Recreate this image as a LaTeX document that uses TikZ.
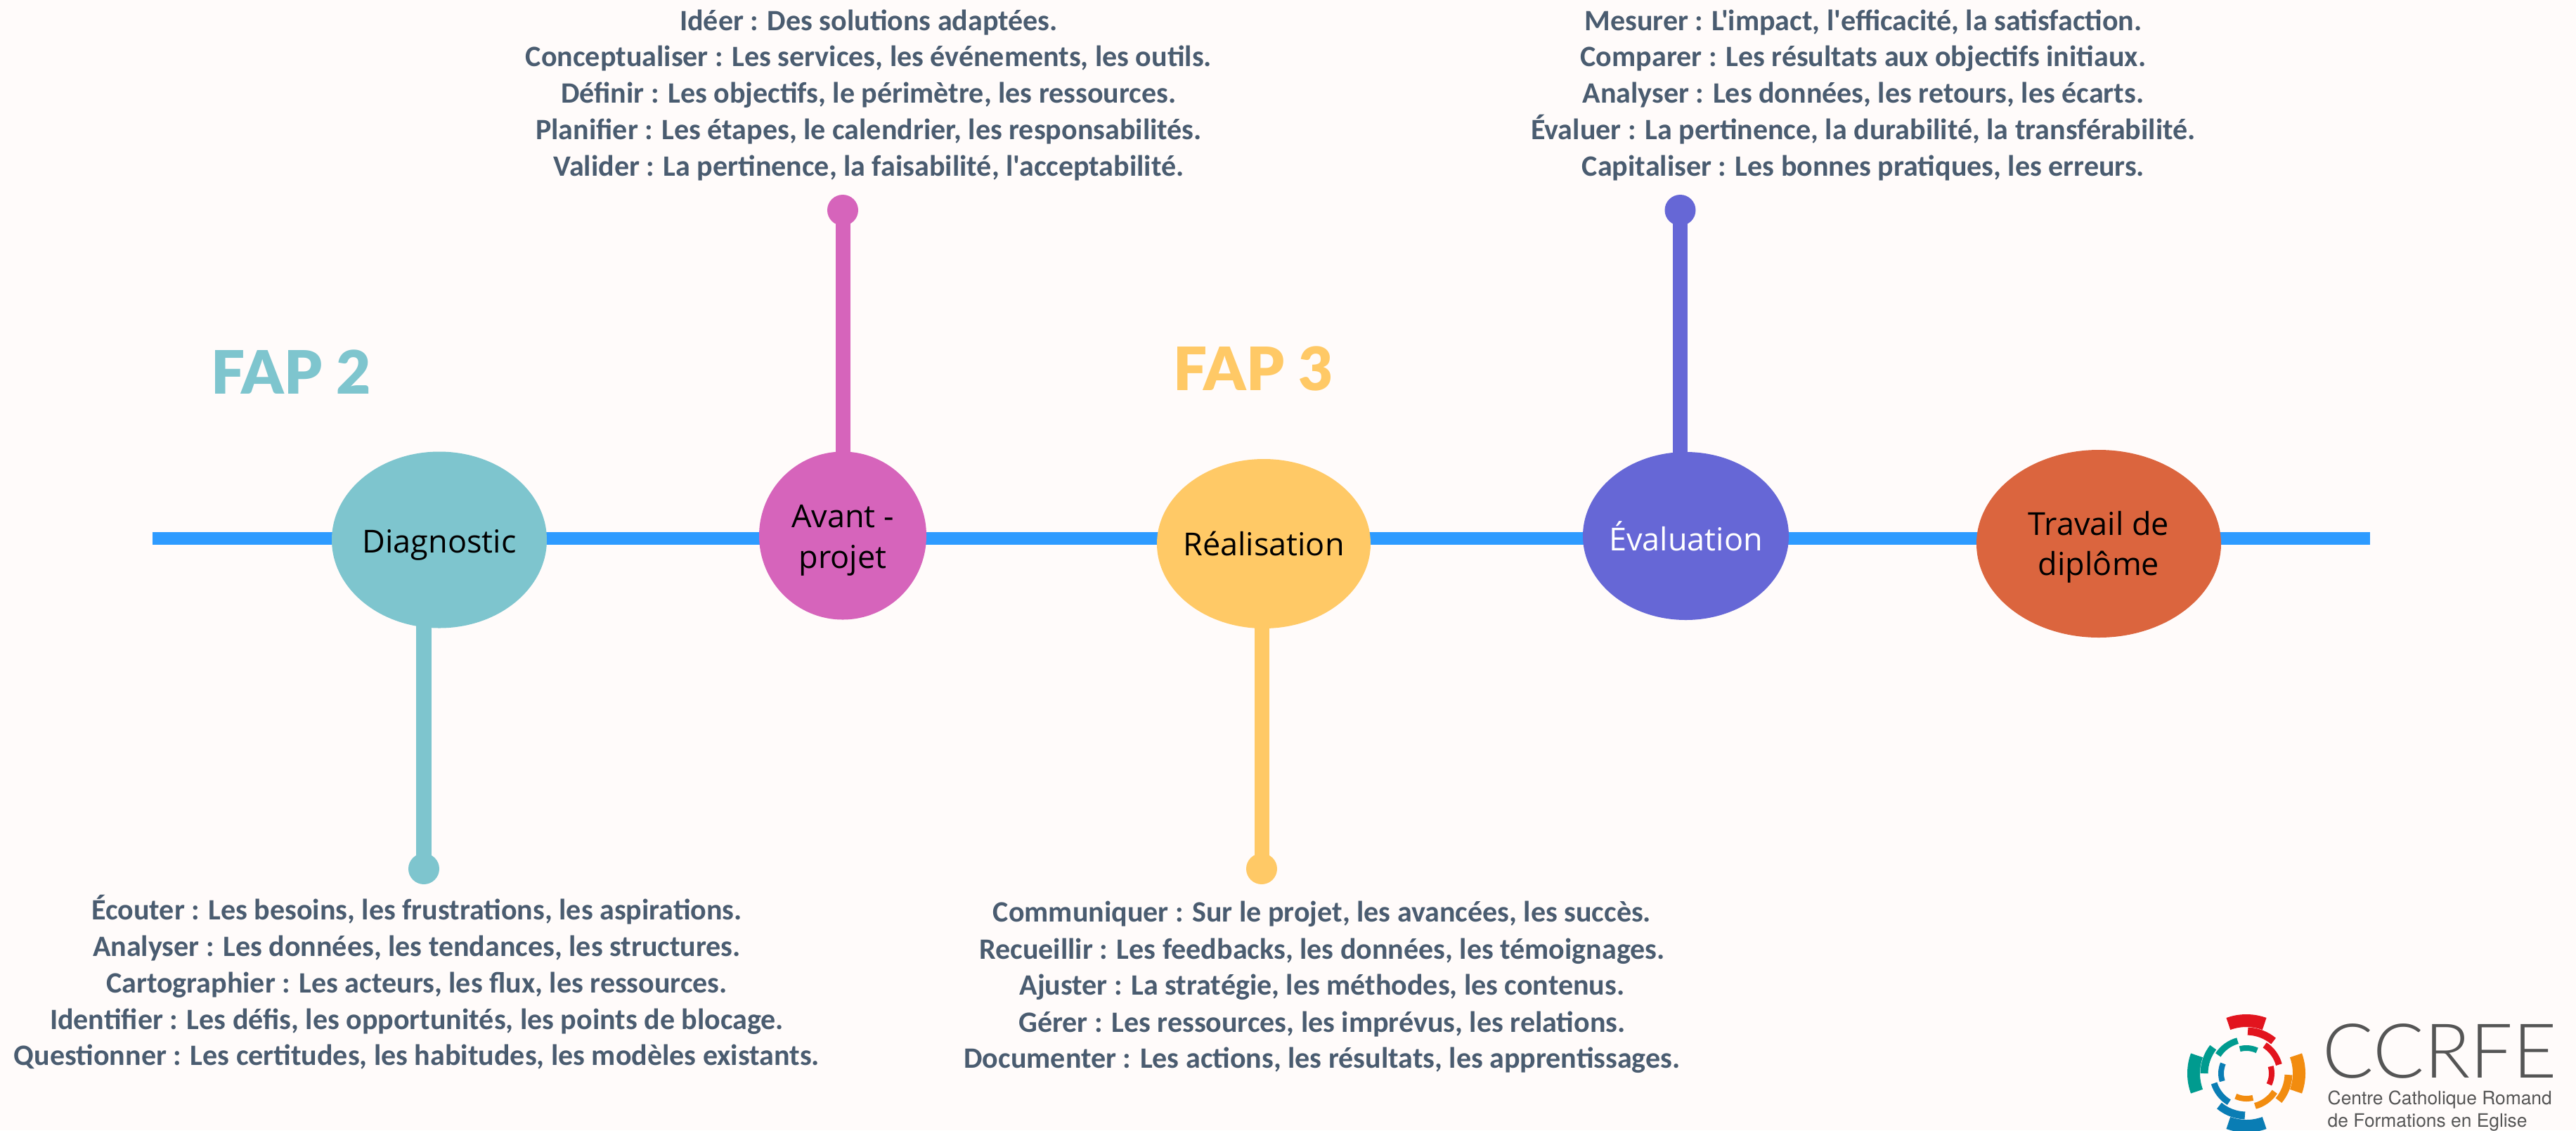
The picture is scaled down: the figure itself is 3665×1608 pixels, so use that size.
\documentclass[tikz,border=0pt]{standalone}
\usepackage{fontspec}
\usepackage{tikz}
\usetikzlibrary{arrows,shapes,backgrounds}
\setmainfont{Carlito}[Ligatures=TeXOff]
\newfontfamily\labelfont{Open Sans}
\newfontfamily\fapfont{Lato Black}
\newfontfamily\logofont{Lato Light}
\newfontfamily\subfont{TeX Gyre Heros}
\definecolor{pagebg}{HTML}{FFFBFA}
\definecolor{linecol}{HTML}{2E9BFF}
\definecolor{tealcol}{HTML}{7EC5CE}
\definecolor{pinkcol}{HTML}{D664BB}
\definecolor{yellowcol}{HTML}{FFC966}
\definecolor{indigocol}{HTML}{6667D6}
\definecolor{rustcol}{HTML}{DB653E}
\definecolor{textcol}{HTML}{4A5C70}
\definecolor{logored}{HTML}{E2141E}
\definecolor{logoteal}{HTML}{009B8F}
\definecolor{logoorange}{HTML}{F28C0F}
\definecolor{logoblue}{HTML}{0A7DB4}
\definecolor{logogrey}{HTML}{555555}
\tikzset{
  stage/.style={ellipse,inner sep=0pt,outer sep=0pt,align=center,font=\labelfont\fontsize{12.8}{16.4}\selectfont},
  knob/.style={circle,inner sep=0pt,outer sep=0pt,minimum size=44*0.01cm},
  stem/.style={line width=.21cm},
  entry/.style={anchor=base,text=textcol,inner sep=0pt,yshift=-.023cm,font=\bfseries\fontsize{11.95}{14.8}\selectfont},
  faptitle/.style={anchor=base west,inner sep=0pt,font=\fapfont\fontsize{24.2}{28}\selectfont}
}
\begin{document}
\begin{tikzpicture}[x=.01cm,y=-.01cm]
  \useasboundingbox (0,0) rectangle (3665,1608);
  \coordinate (linestart) at (217,766);
  \coordinate (lineend) at (3372,766);
  \node[stage,fill=tealcol,minimum width=306*0.01cm,minimum height=251*0.01cm] (diag) at (625,768) {\rule{0pt}{.48cm}\makebox[0pt]{Diagnostic}};
  \node[stage,fill=pinkcol,minimum width=238*0.01cm,minimum height=239*0.01cm] (avant) at (1199,762) {\rule{0pt}{.46cm}Avant -\\projet};
  \node[stage,fill=yellowcol,minimum width=304*0.01cm,minimum height=241*0.01cm] (real) at (1798,773.5) {\makebox[0pt]{Réalisation}};
  \node[stage,fill=indigocol,text=white,minimum width=293*0.01cm,minimum height=239*0.01cm] (eval) at (2398.5,762.5) {\makebox[0pt]{Évaluation}};
  \node[stage,fill=rustcol,minimum width=348*0.01cm,minimum height=267*0.01cm] (trav) at (2986,773.5) {\rule{0pt}{.44cm}Travail de\\diplôme};
  \node[knob,fill=tealcol] (diagdot) at (603,1236) {};
  \node[knob,fill=pinkcol] (avantdot) at (1199,299) {};
  \node[knob,fill=yellowcol] (realdot) at (1795,1236) {};
  \node[knob,fill=indigocol] (evaldot) at (2390.5,299) {};
  \begin{scope}[on background layer]
    \fill[pagebg] (0,0) rectangle (3665,1608);
    \draw[line width=.18cm,linecol] (linestart)--(lineend);
    \draw[stem,tealcol] (diagdot.center)--(diagdot|-diag.center);
    \draw[stem,pinkcol] (avantdot.center)--(avant.center);
    \draw[stem,yellowcol] (realdot.center)--(realdot|-real.center);
    \draw[stem,indigocol] (evaldot.center)--(evaldot|-eval.center);
  \end{scope}
  \node[faptitle,text=tealcol] (fap2) at (300,560) {FAP 2};
  \node[faptitle,text=yellowcol] (fap3) at (1669,555) {FAP 3};
  \node[entry] (a1) at (1236,41) {Idéer : Des solutions adaptées.};
  \node[entry] (a2) at (1236,92) {Conceptualiser : Les services, les événements, les outils.};
  \node[entry] (a3) at (1236,144) {Définir : Les objectifs, le périmètre, les ressources.};
  \node[entry] (a4) at (1236,196) {Planifier : Les étapes, le calendrier, les responsabilités.};
  \node[entry] (a5) at (1236,248) {Valider : La pertinence, la faisabilité, l'acceptabilité.};
  \node[entry] (e1) at (2651,41) {Mesurer : L'impact, l'efficacité, la satisfaction.};
  \node[entry] (e2) at (2651,92) {Comparer : Les résultats aux objectifs initiaux.};
  \node[entry] (e3) at (2651,144) {Analyser : Les données, les retours, les écarts.};
  \node[entry] (e4) at (2651,196) {Évaluer : La pertinence, la durabilité, la transférabilité.};
  \node[entry] (e5) at (2651,248) {Capitaliser : Les bonnes pratiques, les erreurs.};
  \node[entry] (d1) at (593,1306) {Écouter : Les besoins, les frustrations, les aspirations.};
  \node[entry] (d2) at (593,1358) {Analyser : Les données, les tendances, les structures.};
  \node[entry] (d3) at (593,1410) {Cartographier : Les acteurs, les flux, les ressources.};
  \node[entry] (d4) at (593,1462) {Identifier : Les défis, les opportunités, les points de blocage.};
  \node[entry] (d5) at (593,1513) {Questionner : Les certitudes, les habitudes, les modèles existants.};
  \node[entry] (r1) at (1881,1309) {Communiquer : Sur le projet, les avancées, les succès.};
  \node[entry] (r2) at (1881,1362) {Recueillir : Les feedbacks, les données, les témoignages.};
  \node[entry] (r3) at (1881,1413) {Ajuster : La stratégie, les méthodes, les contenus.};
  \node[entry] (r4) at (1881,1466) {Gérer : Les ressources, les imprévus, les relations.};
  \node[entry] (r5) at (1881,1517) {Documenter : Les actions, les résultats, les apprentissages.};
  \begin{scope}[shift={(3196,1527)},y=.01cm]
    \foreach \col/\from/\to/\rad/\wid in {
      logored/70/110/75/18,logoorange/-20/20/75/18,logoblue/250/290/75/18,logoteal/160/200/75/18,
      logored/50/88/60/11,logoorange/-40/-2/60/11,logoblue/230/268/60/11,logoteal/142/180/60/11,
      logored/15/57/48/9,logoorange/-75/-33/48/9,logoblue/197/239/48/9,logoteal/105/147/48/9,
      logored/-26/16/36/8,logoorange/245/285/36/8,logoblue/157/198/36/8,logoteal/65/105/36/8}
      \draw[\col,line width=\wid*0.01cm] (\from:\rad) arc[start angle=\from,end angle=\to,radius=\rad];
  \end{scope}
  \node[anchor=base west,inner sep=0pt,text=logogrey,font=\logofont\fontsize{30.6}{31}\selectfont] (ccrfe) at (3304,1533) {CCRFE};
  \node[anchor=base west,inner sep=0pt,text=logogrey,font=\subfont\fontsize{7.5}{9}\selectfont] (sub1) at (3311,1571) {Centre Catholique Romand};
  \node[anchor=base west,inner sep=0pt,text=logogrey,font=\subfont\fontsize{7.5}{9}\selectfont] (sub2) at (3311,1603) {de Formations en Eglise};
\end{tikzpicture}
\end{document}
